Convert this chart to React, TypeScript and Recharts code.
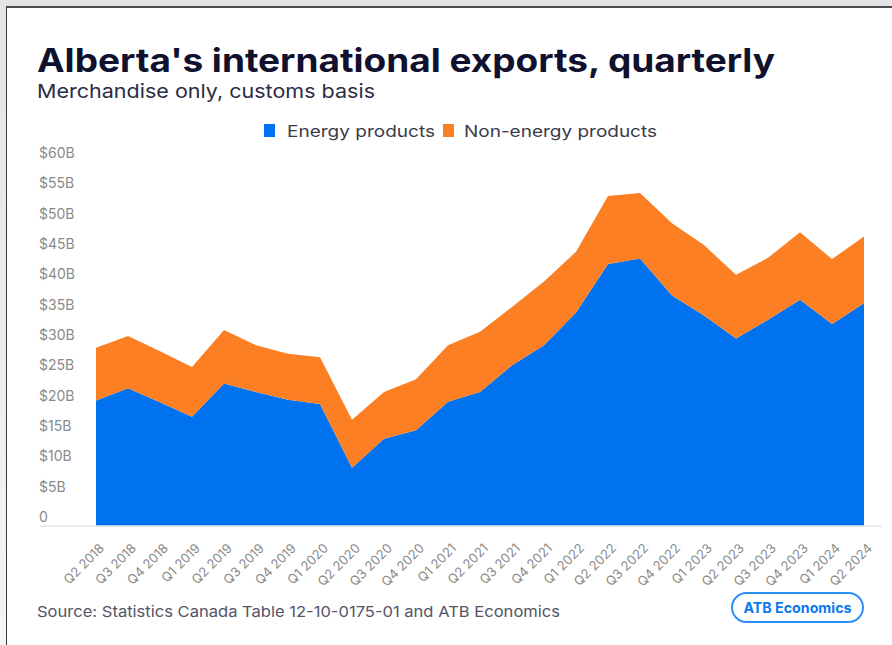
import React from "react";
import { AreaChart, Area, XAxis, YAxis } from "recharts";

const quarters = [
  "Q2 2018", "Q3 2018", "Q4 2018",
  "Q1 2019", "Q2 2019", "Q3 2019", "Q4 2019",
  "Q1 2020", "Q2 2020", "Q3 2020", "Q4 2020",
  "Q1 2021", "Q2 2021", "Q3 2021", "Q4 2021",
  "Q1 2022", "Q2 2022", "Q3 2022", "Q4 2022",
  "Q1 2023", "Q2 2023", "Q3 2023", "Q4 2023",
  "Q1 2024", "Q2 2024",
];

// Billions of dollars
const energy = [
  20.7, 22.7, 20.4,
  18.0, 23.5, 22.1, 20.8,
  20.1, 9.6, 14.4, 15.8,
  20.5, 22.1, 26.5, 29.8,
  35.2, 43.2, 44.1, 38.0,
  34.7, 30.9, 34.0, 37.3,
  33.3, 36.7,
];

const nonEnergy = [
  8.7, 8.6, 8.4,
  8.2, 8.8, 7.7, 7.6,
  7.7, 7.9, 7.7, 8.4,
  9.3, 9.9, 9.6, 10.5,
  10.0, 11.2, 10.8, 11.9,
  11.6, 10.5, 10.2, 11.1,
  10.7, 11.0,
];

const yTicks = [0, 5, 10, 15, 20, 25, 30, 35, 40, 45, 50, 55, 60];

const seriesNames = ["Energy products", "Non-energy products"];
const seriesColors = ["#0072f0", "#fd7f23"];

const title = "Alberta's international exports, quarterly";
const subtitle = "Merchandise only, customs basis";
const source = "Source: Statistics Canada Table 12-10-0175-01 and ATB Economics";
const badge = "ATB Economics";

const data = quarters.map((q, i) => ({
  q,
  energy: energy[i],
  nonEnergy: nonEnergy[i],
}));

const FONT = "Inter, 'Open Sans', 'DejaVu Sans', sans-serif";

const YTick = (props: any) => {
  const { y, payload } = props;
  const v = payload.value;
  const label = v === 0 ? "0" : `$${v}B`;
  return (
    <text
      x={39}
      y={y - 9}
      dy="0.35em"
      textAnchor="start"
      fill="#8a8a8a"
      fontSize={14}
      fontFamily={FONT}
    >
      {label}
    </text>
  );
};

const XTick = (props: any) => {
  const { x, y, payload } = props;
  return (
    <g transform={`translate(${x + 9},${y + 15})`}>
      <text
        x={0}
        y={0}
        textAnchor="end"
        transform="rotate(-45)"
        fill="#8a8a8a"
        fontSize={13}
        fontFamily={FONT}
      >
        {payload.value}
      </text>
    </g>
  );
};

export default function App() {
  return (
    <div
      style={{
        position: "absolute",
        left: 0,
        top: 0,
        width: 892,
        height: 645,
        background: "linear-gradient(#e4e4e4, #f4f4f4)",
        overflow: "hidden",
      }}
    >
      <div
        style={{
          position: "absolute",
          left: 6,
          top: 6,
          width: 900,
          height: 660,
          background: "#ffffff",
          borderTop: "2px solid #4d4d4d",
          borderLeft: "1.5px solid #3a3a3a",
        }}
      />
      <div style={{ position: "absolute", left: 0, top: 0 }}>
        <AreaChart
          width={892}
          height={645}
          data={data}
          margin={{ top: 162, right: 10, bottom: 0, left: 0 }}
        >
          <XAxis
            dataKey="q"
            height={119}
            padding={{ left: 56, right: 18 }}
            axisLine={{ stroke: "#e6e6e6", strokeWidth: 1.5 }}
            tickLine={false}
            interval={0}
            tick={<XTick />}
          />
          <YAxis
            width={40}
            domain={[0, 60]}
            ticks={yTicks}
            axisLine={false}
            tickLine={false}
            tick={<YTick />}
          />
          <Area
            type="linear"
            dataKey="energy"
            name={seriesNames[0]}
            stackId="1"
            stroke="none"
            fill={seriesColors[0]}
            fillOpacity={1}
            isAnimationActive={false}
          />
          <Area
            type="linear"
            dataKey="nonEnergy"
            name={seriesNames[1]}
            stackId="1"
            stroke="none"
            fill={seriesColors[1]}
            fillOpacity={1}
            isAnimationActive={false}
          />
        </AreaChart>
      </div>
      <svg
        width={892}
        height={645}
        style={{ position: "absolute", left: 0, top: 0, pointerEvents: "none" }}
      >
        <text
          x={37}
          y={72}
          fontFamily={FONT}
          fontWeight={700}
          fontSize={32}
          fill="#10112e"
          textLength={738}
          lengthAdjust="spacingAndGlyphs"
        >
          {title}
        </text>
        <text
          x={37}
          y={98}
          fontFamily={FONT}
          fontSize={19}
          fill="#2b2c45"
          textLength={338}
          lengthAdjust="spacingAndGlyphs"
        >
          {subtitle}
        </text>
        <rect x={264} y={124} width={11} height={13} fill={seriesColors[0]} />
        <text
          x={287}
          y={137}
          fontFamily={FONT}
          fontSize={16.5}
          fill="#3a3a4a"
          textLength={148}
          lengthAdjust="spacingAndGlyphs"
        >
          {seriesNames[0]}
        </text>
        <rect x={443} y={124} width={11} height={13} fill={seriesColors[1]} />
        <text
          x={464}
          y={137}
          fontFamily={FONT}
          fontSize={16.5}
          fill="#3a3a4a"
          textLength={193}
          lengthAdjust="spacingAndGlyphs"
        >
          {seriesNames[1]}
        </text>
        <text
          x={37}
          y={617}
          fontFamily={FONT}
          fontSize={15}
          fill="#535468"
          textLength={523}
          lengthAdjust="spacingAndGlyphs"
        >
          {source}
        </text>
        <rect
          x={732}
          y={593}
          width={131}
          height={29}
          rx={14.5}
          fill="#ffffff"
          stroke="#2b8ffb"
          strokeWidth={2}
        />
        <text
          x={797.5}
          y={612.5}
          textAnchor="middle"
          fontFamily={FONT}
          fontWeight={700}
          fontSize={14}
          fill="#0a78f0"
          textLength={108}
          lengthAdjust="spacingAndGlyphs"
        >
          {badge}
        </text>
      </svg>
    </div>
  );
}
